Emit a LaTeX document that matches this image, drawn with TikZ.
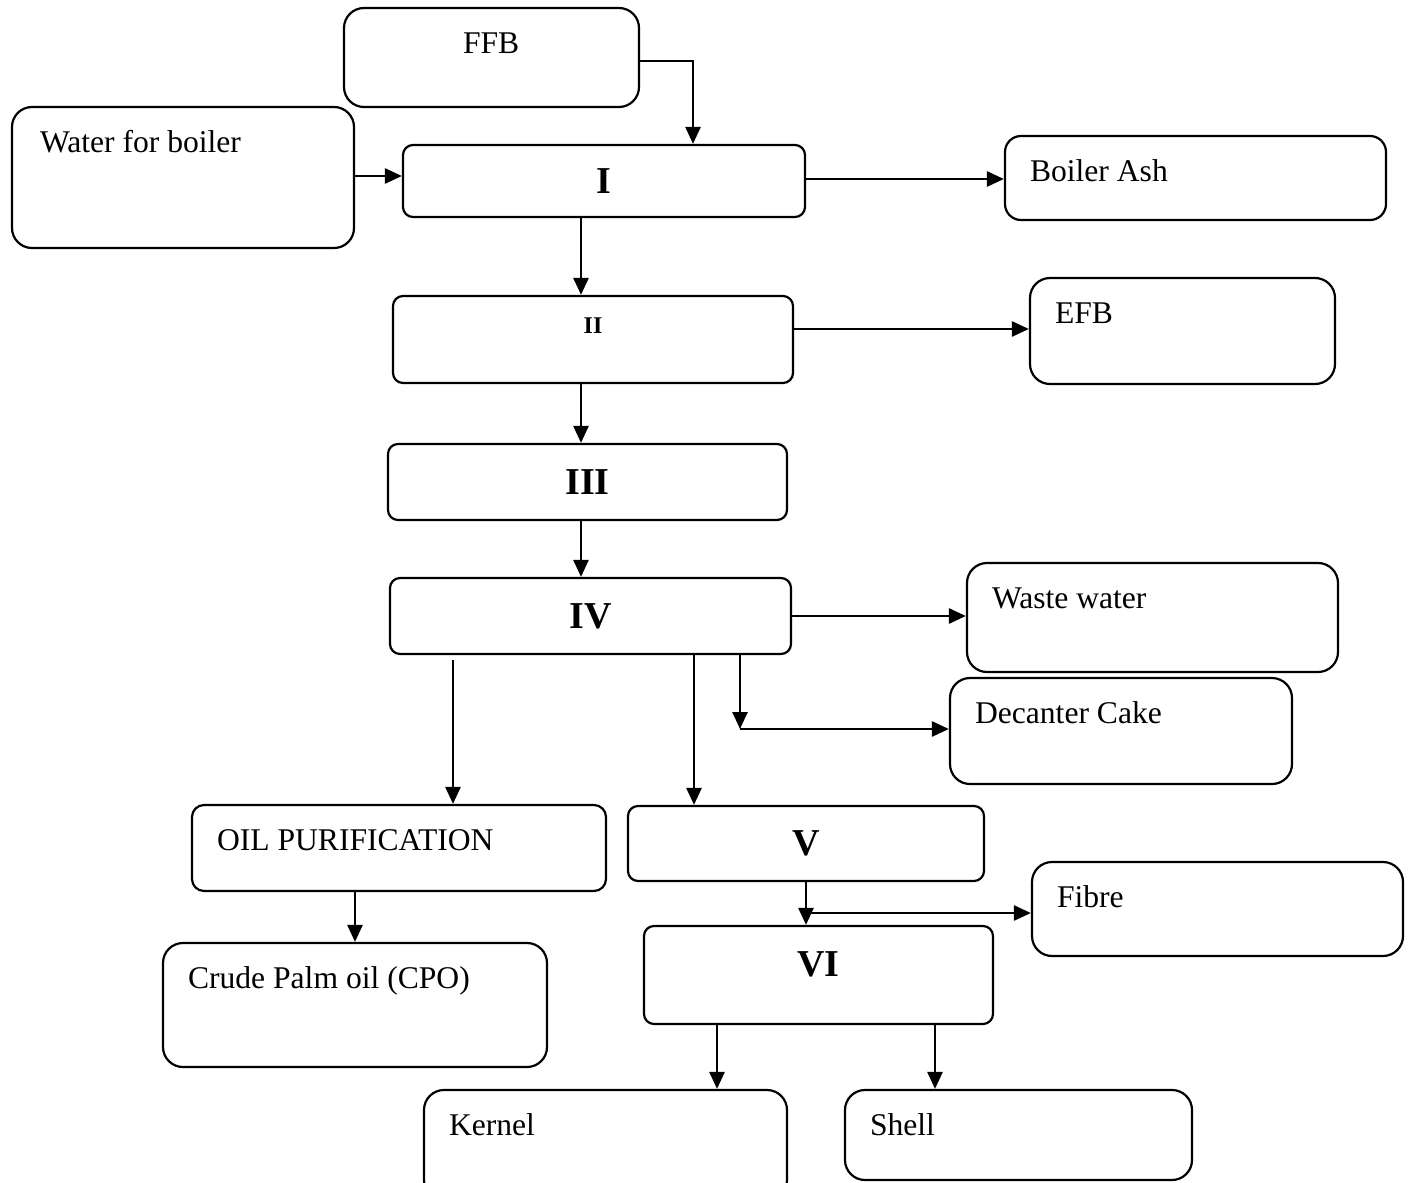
\documentclass[tikz,border=0pt]{standalone}
\usepackage{fontspec}
\setmainfont{Liberation Serif}
\usetikzlibrary{arrows.meta,calc}
\begin{document}
\begin{tikzpicture}[x=0.5pt, y=-0.5pt, line width=1.1pt, >={Triangle[length=8.5pt,width=7.5pt]},
	box/.style={draw, rounded corners=10pt, inner sep=0pt},
	unit/.style={draw, rounded corners=5pt, inner sep=0pt, font=\bfseries\fontsize{19}{22}\selectfont},
	txt/.style={anchor=base west, inner sep=0pt, xshift=12.5pt, yshift=-23.5pt, font=\fontsize{15.8}{19}\selectfont},
	numtxt/.style={inner sep=0pt, font=\bfseries\fontsize{12}{14}\selectfont},
	arr/.style={->, line width=1.3pt}]
		\useasboundingbox (0,0) rectangle (1408,1183);
		\node[box, minimum width=147.5pt, minimum height=49.5pt, label={[txt, xshift=47pt]north west:FFB}] (ffb) at (491.5,57.5) {};
		\node[box, minimum width=171pt, minimum height=70.5pt, label={[txt, xshift=1.5pt]north west:Water for boiler}] (water) at (183,177.5) {};
		\node[unit, minimum width=201pt, minimum height=36pt] (p1) at (604,181) {I};
		\node[box, rounded corners=8pt, minimum width=190.5pt, minimum height=42pt, label={[txt]north west:Boiler Ash}] (ash) at (1195.5,178) {};
		\node[unit, minimum width=200pt, minimum height=43.5pt, label={[numtxt, yshift=7pt]center:II}] (p2) at (593,339.5) {};
		\node[box, minimum width=152.5pt, minimum height=53pt, label={[txt]north west:EFB}] (efb) at (1182.5,331) {};
		\node[unit, minimum width=199.5pt, minimum height=38pt] (p3) at (587.5,482) {III};
		\node[unit, minimum width=200.5pt, minimum height=38pt] (p4) at (590.5,616) {IV};
		\node[box, minimum width=185.5pt, minimum height=54.5pt, label={[txt]north west:Waste water}] (waste) at (1152.5,617.5) {};
		\node[box, minimum width=171pt, minimum height=53pt, label={[txt]north west:Decanter Cake}] (cake) at (1121,731) {};
		\node[box, rounded corners=6pt, minimum width=207pt, minimum height=43pt, label={[txt]north west:OIL PURIFICATION}] (oil) at (399,848) {};
		\node[unit, minimum width=178pt, minimum height=37.5pt] (p5) at (806,843.5) {V};
		\node[box, minimum width=185.5pt, minimum height=47pt, label={[txt]north west:Fibre}] (fibre) at (1217.5,909) {};
		\node[unit, minimum width=174.5pt, minimum height=49pt, label={[unit, draw=none, yshift=5.5pt]center:VI}] (p6) at (818.5,975) {};
		\node[box, minimum width=192pt, minimum height=62pt, label={[txt]north west:Crude Palm oil (CPO)}] (cpo) at (355,1005) {};
		\node[box, minimum width=181.5pt, minimum height=55pt, label={[txt]north west:Kernel}] (kernel) at (605.5,1145) {};
		\node[box, minimum width=173.5pt, minimum height=45pt, label={[txt]north west:Shell}] (shell) at (1018.5,1135) {};
		\coordinate (mainx) at (581,0);
		\coordinate (oilx) at (453,0);
		\coordinate (vx) at (694,0);
		\coordinate (cakex) at (740,0);
		\coordinate (kernelx) at (717,0);
		\coordinate (shellx) at (935,0);
		\draw[arr] ($(ffb.east)+(0,3.5)$) -| ($(p1.north)+(89,0)$);
		\draw[arr] ($(water.east)+(0,-1.5)$) -- ($(water.east -| p1.west)+(0,-1.5)$);
		\draw[arr] ($(p1.east)+(0,-2)$) -- ($(p1.east -| ash.west)+(0,-2)$);
		\draw[arr] (p1.south -| mainx) -- (p2.north -| mainx);
		\draw[arr] ($(p2.east)+(0,-10.5)$) -- ($(p2.east -| efb.west)+(0,-10.5)$);
		\draw[arr] (p2.south -| mainx) -- (p3.north -| mainx);
		\draw[arr] (p3.south -| mainx) -- (p4.north -| mainx);
		\draw[arr] (p4.east) -- (p4.east -| waste.west);
		\draw[arr] (p4.south -| cakex) -- ($(cakex |- cake.west)+(0,-2)$);
		\draw[arr] ($(cakex |- cake.west)+(0,-2)$) -- ($(cake.west)+(0,-2)$);
		\draw[arr] ($(p4.south -| oilx)+(0,5)$) -- (oil.north -| oilx);
		\draw[arr] (p4.south -| vx) -- (p5.north -| vx);
		\draw[arr] (p5.south) -- (p6.north -| p5.south);
		\draw[arr] ($(p5.south |- fibre.west)+(0,4)$) -- ($(fibre.west)+(0,4)$);
		\draw[arr] (oil.south -| cpo.north) -- (cpo.north);
		\draw[arr] (p6.south -| kernelx) -- (kernel.north -| kernelx);
		\draw[arr] (p6.south -| shellx) -- (shell.north -| shellx);
\end{tikzpicture}
\end{document}
